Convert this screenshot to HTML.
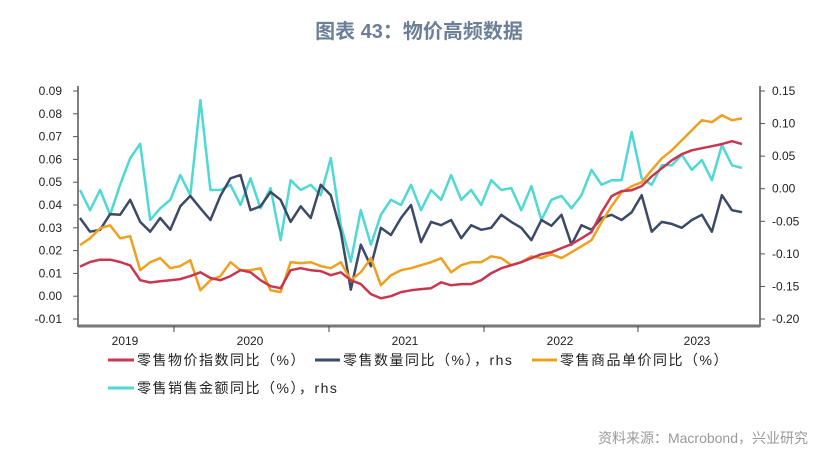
<!DOCTYPE html>
<html><head><meta charset="utf-8"><style>
body{margin:0;background:#fff;width:839px;height:459px;overflow:hidden;font-family:"Liberation Sans","Noto Sans CJK SC",sans-serif}
</style></head><body>
<svg id="chart" width="839" height="459" xmlns="http://www.w3.org/2000/svg" font-family="Liberation Sans, Noto Sans CJK SC, sans-serif">
<text x="419" y="38" text-anchor="middle" font-size="20" font-weight="bold" fill="#6b7f96">图表 43：物价高频数据</text>
<g id="axes"></g>
<g id="series"></g>
<g id="legend">
 <line x1="108" y1="360" x2="134" y2="360" stroke="#c8374f" stroke-width="3"/>
 <text x="137" y="365" font-size="14" letter-spacing="1.5" fill="#222">零售物价指数同比（%）</text>
 <line x1="315" y1="360" x2="340" y2="360" stroke="#3b4a66" stroke-width="3"/>
 <text x="343" y="365" font-size="14" letter-spacing="1.5" fill="#222">零售数量同比（%），rhs</text>
 <line x1="532" y1="360" x2="557" y2="360" stroke="#f0a020" stroke-width="3"/>
 <text x="560" y="365" font-size="14" letter-spacing="1.5" fill="#222">零售商品单价同比（%）</text>
 <line x1="108" y1="388" x2="134" y2="388" stroke="#4fd8d4" stroke-width="3"/>
 <text x="137" y="393" font-size="14" letter-spacing="1.5" fill="#222">零售销售金额同比（%），rhs</text>
</g>
<text x="808" y="443" text-anchor="end" font-size="14" fill="#999">资料来源：Macrobond，兴业研究</text>
</svg>
<script>
const leftTicks=[0.09,0.08,0.07,0.06,0.05,0.04,0.03,0.02,0.01,0.00,-0.01];
const rightTicks=[0.15,0.10,0.05,0.00,-0.05,-0.10,-0.15,-0.20];
const yearLabels=["2019","2020","2021","2022","2023"];
const retailPriceIndex=[.013,.015,.016,.016,.015,.0135,.007,.006,.0066,.007,.0075,.0088,.0105,.008,.007,.0088,.0114,.0105,.007,.0044,.0035,.0114,.0123,.0114,.011,.0092,.0105,.007,.0053,.0009,-.0009,0,.0018,.0026,.0031,.0035,.0061,.0048,.0053,.0053,.007,.0101,.0123,.0136,.0149,.0167,.0184,.0193,.0211,.0228,.0254,.0281,.0368,.0439,.0461,.0465,.0483,.0526,.0561,.0596,.0623,.064,.0649,.0658,.0667,.068,.0667];
const unitPrice=[.0224,.0254,.0298,.0311,.0254,.0263,.0114,.0149,.0167,.0123,.0132,.0158,.0026,.007,.0088,.0149,.0114,.0114,.0123,.0026,.0018,.0149,.0145,.0149,.0132,.0123,.0149,.007,.0105,.0167,.0048,.0092,.0114,.0123,.0136,.0149,.0167,.0105,.0136,.0149,.0149,.0175,.0167,.0136,.0149,.0175,.0167,.0184,.0167,.0193,.0219,.0246,.0325,.0395,.0456,.0482,.05,.0553,.0605,.064,.0684,.0728,.0772,.0763,.0794,.0772,.078];
const retailVolume=[-.045,-.066,-.063,-.039,-.040,-.017,-.051,-.066,-.045,-.063,-.027,-.011,-.030,-.048,-.011,.016,.021,-.033,-.027,-.005,-.017,-.051,-.027,-.045,.006,-.010,-.066,-.155,-.086,-.119,-.060,-.071,-.045,-.025,-.082,-.051,-.056,-.048,-.076,-.056,-.063,-.060,-.040,-.051,-.060,-.079,-.048,-.057,-.040,-.086,-.056,-.063,-.045,-.040,-.048,-.036,-.010,-.066,-.051,-.054,-.060,-.048,-.040,-.066,-.010,-.033,-.036];
const salesValue=[-.002,-.033,-.002,-.040,.006,.047,.069,-.048,-.030,-.017,.021,-.010,.136,-.002,-.002,.006,-.025,.016,-.030,.001,-.079,.013,-.002,.006,-.010,.047,-.056,-.112,-.033,-.086,-.040,-.017,-.025,.006,-.033,-.002,-.017,.021,-.017,-.002,-.025,.013,-.002,.001,-.033,.004,-.048,-.017,-.011,-.030,-.010,.029,.006,.013,.013,.087,.016,.006,.036,.036,.052,.029,.044,.013,.067,.036,.032];
const NS="http://www.w3.org/2000/svg";
const X0=80,X1=742,YT=91,YB=319;
function yL(v){return YT+(0.09-v)/0.10*(YB-YT);}
function yR(v){return YT+(0.15-v)/0.35*(YB-YT);}
function xI(i,n){return X0+i*(X1-X0)/(n-1);}
function mk(tag,attrs,parent){const e=document.createElementNS(NS,tag);for(const k in attrs)e.setAttribute(k,attrs[k]);parent.appendChild(e);return e;}
const ax=document.getElementById('axes');
let l=mk('line',{x1:78,y1:86,x2:78,y2:327,stroke:'#555','stroke-width':1.5},ax);


l=mk('line',{x1:760,y1:86,x2:760,y2:327,stroke:'#555','stroke-width':1.5},ax);


l=mk('line',{x1:78,y1:326,x2:760,y2:326,stroke:'#777','stroke-width':3},ax);


leftTicks.forEach(v=>{const y=yL(v);mk('line',{x1:73,y1:y,x2:78,y2:y,stroke:'#555'},ax);
 const t=mk('text',{x:62,y:y+4,'text-anchor':'end','font-size':12,fill:'#222'},ax);t.textContent=v.toFixed(2);
 
 });
rightTicks.forEach(v=>{const y=yR(v);mk('line',{x1:760,y1:y,x2:765,y2:y,stroke:'#555'},ax);
 const t=mk('text',{x:772,y:y+4,'font-size':12,fill:'#222'},ax);t.textContent=v.toFixed(2);
 
 });
const yearX=[125,250,405,560,697];const yearTicks=[174,329,484,638];
yearTicks.forEach(x=>mk('line',{x1:x,y1:326,x2:x,y2:332,stroke:'#444'},ax));
yearLabels.forEach((s,i)=>{const t=mk('text',{x:yearX[i],y:345,'text-anchor':'middle','font-size':12,fill:'#222'},ax);t.textContent=s;
 
 });
const sg=document.getElementById('series');
function line(arr,ys,color,name){const d=arr.map((v,i)=>(i?'L':'M')+xI(i,arr.length).toFixed(1)+' '+ys(v).toFixed(1)).join('');
 const p=mk('path',{d:d,fill:'none',stroke:color,'stroke-width':2.5,'stroke-linejoin':'round'},sg);
 
 }
line(salesValue,yR,'#4fd8d4','sales-value-line');
line(retailVolume,yR,'#3b4a66','retail-volume-line');
line(unitPrice,yL,'#f0a020','unit-price-line');
line(retailPriceIndex,yL,'#c8374f','retail-price-index-line');
</script>
</body></html>
